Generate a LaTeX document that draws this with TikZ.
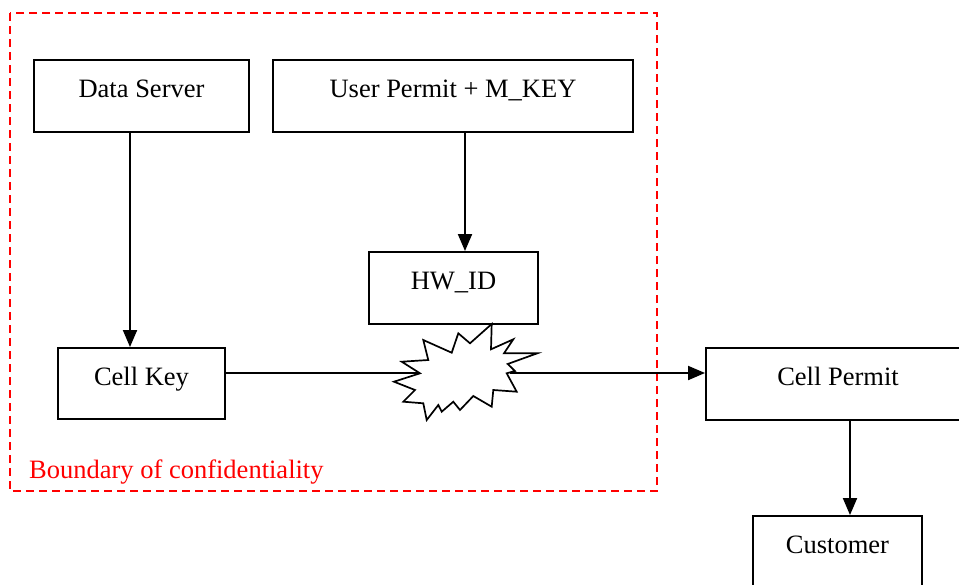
\documentclass[tikz,border=0pt]{standalone}
\usepackage{fontspec}
\setmainfont{Liberation Serif}
\usetikzlibrary{arrows.meta}
\begin{document}
\begin{tikzpicture}[x=1pt,y=-1pt,
  box/.style={draw,line width=1.9pt,inner sep=0pt,text height=37pt,text depth=35pt,
    minimum height=72pt,font=\fontsize{26.5}{30}\selectfont},
  arr/.style={line width=1.9pt,-{Triangle[length=17pt,width=14pt]}},
  link/.style={line width=1.9pt},
  boundary/.style={draw=red,line width=1.8pt,dash pattern=on 8pt off 5pt}]
\useasboundingbox (0,0) rectangle (959,584);

% confidentiality boundary
\draw[boundary] (10,13) rectangle (657,491);
\node[anchor=base west,inner sep=0pt,text=red,font=\fontsize{26.5}{30}\selectfont]
  (bnd) at (29,478) {Boundary of confidentiality};

% boxes
\node[box,minimum width=215pt] (ds) at (141.5,96) {Data Server};
\node[box,minimum width=360pt] (up) at (453,96) {User Permit + M\_KEY};
\node[box,minimum width=169pt] (hw) at (453.5,288) {HW\_ID};
\node[box,minimum width=167pt,text depth=34pt,minimum height=71pt] (ck) at (141.5,383.5) {Cell Key};
\node[box,minimum width=264pt] (cp) at (838,384) {Cell Permit};
\node[box,minimum width=169pt] (cu) at (837.5,552) {Customer};

% ends of the horizontal link at the burst
\coordinate (burstL) at (418,373);
\coordinate (burstR) at (510,373);

% connectors
\draw[arr] ([xshift=-11.5pt]ds.south) -- ([xshift=-11.5pt]ck.north);
\draw[arr] ([xshift=12pt]up.south) -- ([xshift=11.5pt]hw.north);
\draw[link] (ck.east |- burstL) -- (burstL);
\draw[arr] (burstR) -- (cp.west |- burstR);
\draw[arr] ([xshift=12pt]cp.south) -- ([xshift=12.5pt]cu.north);

% burst (combination of cell key and HW_ID)
\draw[line width=1.7pt,fill=white,line join=miter]
  (491.7,324) -- (491,349.3) -- (513.3,339.3) -- (504,353.3) -- (537.3,353.3)
  -- (507.7,364) -- (515,371) -- (506.7,373.3) -- (516.7,391.7) -- (493.3,390)
  -- (491.7,406.7) -- (473.3,396) -- (460,410) -- (453.3,401.7) -- (441.7,411.7)
  -- (438.3,405) -- (426.7,420) -- (423.3,403.3) -- (403.3,401.7) -- (415,390)
  -- (394,381.7) -- (420,373.3) -- (401.7,361.7) -- (428.3,360) -- (423.3,340)
  -- (451.7,352.7) -- (458.3,333.3) -- (470,343.3) -- cycle;
\end{tikzpicture}
\end{document}
